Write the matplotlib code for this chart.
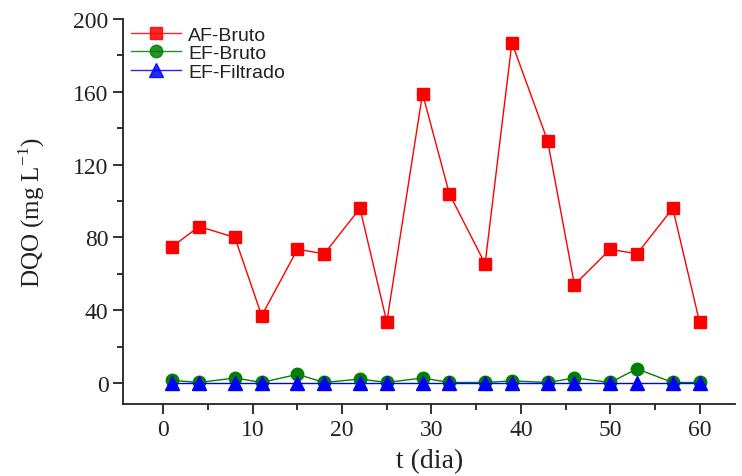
import matplotlib
matplotlib.use("Agg")
import matplotlib.pyplot as plt
from matplotlib.ticker import MultipleLocator

# days of sampling
t_dia = [1, 4, 8, 11, 15, 18, 22, 25, 29, 32, 36, 39, 43, 46, 50, 53, 57, 60]

# DQO (mg/L) per series
af_bruto = [75, 86, 80, 37, 73.5, 71, 96, 33.5, 159, 104, 65.5, 187, 133, 54, 73.5, 71, 96, 33.5]
ef_bruto = [1.5, 0.3, 2.8, 0.3, 4.8, 0.3, 2.2, 0.3, 2.8, 0.3, 0.3, 1.2, 0.3, 2.8, 0.3, 7.8, 0.3, 0.3]
ef_filtrado = [0.2, 0.2, 0.2, 0.2, 0.2, 0.2, 0.2, 0.2, 0.2, 0.2, 0.2, 0.2, 0.2, 0.2, 0.2, 0.2, 0.2, 0.2]

serif = "Liberation Serif"
sans = "Liberation Sans"

fig = plt.figure(figsize=(7.42, 4.77), dpi=100, facecolor="white")
ax = fig.add_axes([0.166, 0.151, 0.825, 0.807])

ax.plot(t_dia, af_bruto, color="#ff0000", lw=1.0, marker="s", ms=9,
        mfc="#ff0000", mec="#ff0000", label="AF-Bruto", zorder=3)
ax.plot(t_dia, ef_bruto, color="#008000", lw=1.0, marker="o", ms=9,
        mfc="#008000", mec="#008000", label="EF-Bruto", zorder=4)
ax.plot(t_dia, ef_filtrado, color="#0000ff", lw=1.0, marker="^", ms=9.5,
        mfc="#0000ff", mec="#0000ff", label="EF-Filtrado", zorder=5)

ax.set_xlim(-4.5, 64)
ax.set_ylim(-11.5, 200)
ax.xaxis.set_major_locator(MultipleLocator(10))
ax.xaxis.set_minor_locator(MultipleLocator(5))
ax.yaxis.set_major_locator(MultipleLocator(40))
ax.yaxis.set_minor_locator(MultipleLocator(20))

for side in ("top", "right"):
    ax.spines[side].set_visible(False)
for side in ("left", "bottom"):
    ax.spines[side].set_linewidth(1.3)
    ax.spines[side].set_color("#222222")

ax.tick_params(which="major", direction="out", length=7, width=1.3, colors="#222222")
ax.tick_params(which="minor", direction="out", length=4, width=1.3, colors="#222222")
for lbl in ax.get_xticklabels() + ax.get_yticklabels():
    lbl.set_fontfamily(serif)
    lbl.set_fontsize(17)
    lbl.set_color("#222222")

ax.set_xlabel("t (dia)", fontfamily=serif, fontsize=20, color="#222222", labelpad=6)
ax.set_ylabel("DQO (mg L$^{\\mathregular{-1}}$)", fontfamily=serif, fontsize=18,
              color="#222222", labelpad=19)

leg = ax.legend(loc="upper left", bbox_to_anchor=(-0.007, 1.012), frameon=False,
                prop={"family": sans, "size": 14}, handlelength=2.6,
                handletextpad=0.35, labelspacing=0.05, borderaxespad=0.2)
for txt in leg.get_texts():
    txt.set_color("#222222")
for line in leg.get_lines():
    line.set_alpha(0.85)

fig.savefig("out.png", dpi=100, facecolor="white")
